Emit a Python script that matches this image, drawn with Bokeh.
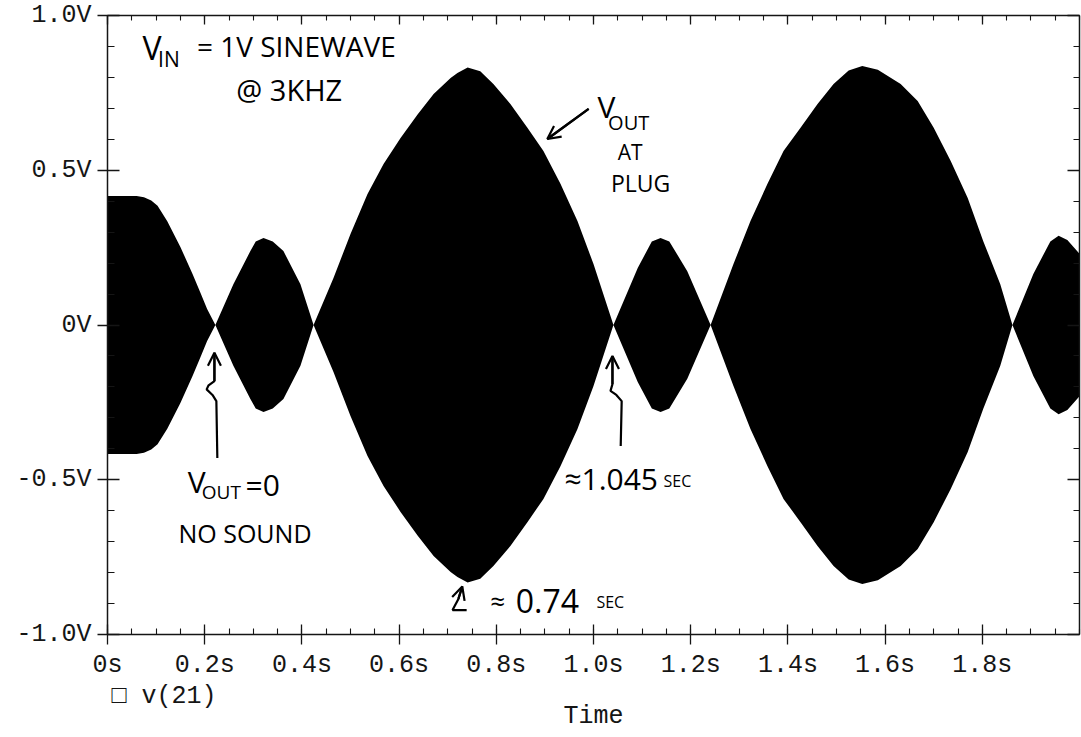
import numpy as np
from bokeh.plotting import figure
from bokeh.models import (LinearAxis, FixedTicker, Range1d, Label, Arrow,
                          OpenHead, ColumnDataSource, Title)
from bokeh.embed import file_html
from bokeh.resources import INLINE

# Envelope of v(21): the 3 kHz carrier is far too dense to resolve over 2 s,
# so the trace shows as a solid band between +amplitude and -amplitude.
time_s = [0.000, 0.060, 0.075, 0.090, 0.103, 0.123, 0.150, 0.175, 0.191, 0.205, 0.222,
          0.259, 0.294, 0.305, 0.321, 0.340, 0.362, 0.397, 0.424,
          0.465, 0.500, 0.535, 0.568, 0.603, 0.638, 0.671, 0.706, 0.720, 0.741,
          0.767, 0.794, 0.829, 0.864, 0.897, 0.932, 0.967, 1.000, 1.041,
          1.091, 1.120, 1.138, 1.156, 1.193, 1.241,
          1.288, 1.323, 1.358, 1.391, 1.426, 1.461, 1.494, 1.525, 1.553, 1.585,
          1.632, 1.667, 1.700, 1.735, 1.770, 1.802, 1.837, 1.862,
          1.905, 1.940, 1.957, 1.975, 2.000]
amp_v = [0.417, 0.417, 0.413, 0.402, 0.385, 0.335, 0.252, 0.165, 0.105, 0.052, 0.000,
         0.132, 0.239, 0.270, 0.281, 0.270, 0.239, 0.132, 0.000,
         0.152, 0.294, 0.423, 0.520, 0.604, 0.680, 0.746, 0.798, 0.814, 0.832,
         0.820, 0.779, 0.714, 0.637, 0.562, 0.456, 0.336, 0.197, 0.000,
         0.184, 0.270, 0.281, 0.270, 0.174, 0.000,
         0.197, 0.336, 0.456, 0.562, 0.637, 0.714, 0.779, 0.822, 0.837, 0.825,
         0.779, 0.724, 0.637, 0.530, 0.410, 0.271, 0.132, 0.000,
         0.165, 0.270, 0.288, 0.275, 0.230]

x_ticks = [0.0, 0.2, 0.4, 0.6, 0.8, 1.0, 1.2, 1.4, 1.6, 1.8]
x_tick_labels = ["0s", "0.2s", "0.4s", "0.6s", "0.8s", "1.0s", "1.2s", "1.4s", "1.6s", "1.8s"]
y_ticks = [-1.0, -0.5, 0.0, 0.5, 1.0]
y_tick_labels = ["-1.0V", "-0.5V", "0V", "0.5V", "1.0V"]

x_minor = [round(v, 2) for v in np.arange(0.0, 2.001, 0.05)]
y_minor = [round(v, 2) for v in np.arange(-1.0, 1.001, 0.1)]

amp = np.array(amp_v)
src = ColumnDataSource(dict(t=time_s, top=amp, bottom=-amp))

p = figure(width=1081, height=737, x_range=Range1d(0.0, 2.0), y_range=Range1d(-1.0, 1.0),
           output_backend="svg", toolbar_location=None,
           x_axis_location=None, y_axis_location=None,
           min_border_left=107, min_border_right=2, min_border_top=15, min_border_bottom=103)
p.grid.visible = False
p.outline_line_color = None
p.background_fill_color = "white"
p.border_fill_color = "white"

p.varea(x="t", y1="bottom", y2="top", source=src, fill_color="black")

MONO = "Liberation Mono"
INK = "#151515"


def make_axis(ticks, labels, minor, labelled, major_in, major_out, minor_in):
    ax = LinearAxis(ticker=FixedTicker(ticks=ticks, minor_ticks=minor))
    ax.axis_line_color = INK
    ax.axis_line_width = 1.5
    ax.major_tick_line_color = INK
    ax.major_tick_line_width = 1.3
    ax.minor_tick_line_color = INK
    ax.minor_tick_line_width = 1.1
    ax.major_tick_in = major_in
    ax.major_tick_out = major_out
    ax.minor_tick_in = minor_in
    ax.minor_tick_out = 0
    ax.major_label_text_font = MONO
    ax.major_label_text_color = INK
    if labelled:
        ax.major_label_overrides = {t: s for t, s in zip(ticks, labels)}
        ax.major_label_text_font_size = "25px"
        ax.major_label_standoff = 6
    else:
        # mirrored frame axis: ticks only
        ax.major_label_overrides = {t: "" for t in ticks}
        ax.major_label_text_font_size = "1px"
        ax.major_label_standoff = 0
    return ax


p.add_layout(make_axis(x_ticks, x_tick_labels, x_minor, True, 10, 10, 6), "below")
p.add_layout(make_axis(y_ticks, y_tick_labels, y_minor, True, 12, 10, 7), "left")
p.add_layout(make_axis(x_ticks, x_tick_labels, x_minor, False, 9, 0, 5), "above")
p.add_layout(make_axis(y_ticks, y_tick_labels, y_minor, False, 12, 0, 6), "right")

# trace legend and x-axis title under the tick labels
p.add_layout(Title(text="\u25a1 v(21)", align="left", offset=4, standoff=-5,
                   text_font=MONO, text_font_size="25px", text_font_style="normal",
                   text_color=INK), "below")
p.add_layout(Title(text="Time", align="center", standoff=-18,
                   text_font=MONO, text_font_size="25px", text_font_style="normal",
                   text_color=INK), "below")

# hand-written notes
HAND = "Open Sans"


def note(text, t, v, size):
    p.add_layout(Label(x=t, y=v, text=text, text_font=HAND, text_font_size=f"{size}px",
                       text_color="black", text_baseline="middle"))


def pen(xs, ys, head=None):
    p.line(xs, ys, line_width=2.2, color="black")
    if head:
        p.add_layout(Arrow(end=OpenHead(size=13, line_width=2.2, line_color="black"),
                           x_start=xs[-2], y_start=ys[-2], x_end=xs[-1], y_end=ys[-1],
                           line_width=2.2, line_color="black"))


note("V", 0.072, 0.895, 32)
note("IN", 0.104, 0.860, 21)
note("= 1V SINEWAVE", 0.184, 0.900, 28)
note("@ 3KHZ", 0.265, 0.762, 29)

note("V", 1.008, 0.706, 30)
note("OUT", 1.030, 0.655, 20)
note("AT", 1.050, 0.560, 21)
note("PLUG", 1.036, 0.458, 23)
pen([0.990, 0.905], [0.698, 0.601], head=True)

note("V", 0.165, -0.505, 30)
note("OUT", 0.194, -0.540, 19)
note("=0", 0.284, -0.515, 30)
note("NO SOUND", 0.146, -0.672, 25)
pen([0.226, 0.224, 0.216, 0.204, 0.208, 0.220, 0.220],
    [-0.430, -0.246, -0.226, -0.208, -0.195, -0.181, -0.090], head=True)

note("\u22481.045", 0.940, -0.497, 30)
note("SEC", 1.144, -0.505, 16)
pen([1.056, 1.058, 1.047, 1.035, 1.039, 1.039],
    [-0.391, -0.246, -0.226, -0.213, -0.191, -0.100], head=True)

note("\u2248", 0.788, -0.893, 26)
note("0.74", 0.840, -0.893, 32)
note("SEC", 1.006, -0.895, 16)
pen([0.739, 0.710, 0.722, 0.730], [-0.921, -0.921, -0.885, -0.845], head=True)

open("out.html", "w").write(file_html(p, INLINE))
